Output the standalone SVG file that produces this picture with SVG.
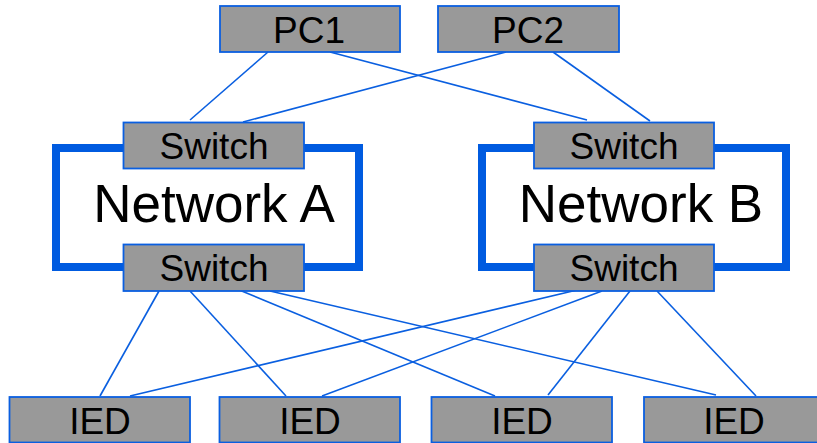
<svg xmlns="http://www.w3.org/2000/svg" width="817" height="443" viewBox="0 0 817 443">
<style>
.box{fill:#999999;stroke:#0a5fe0;stroke-width:1.8}
.frame{fill:#ffffff;stroke:#005be0;stroke-width:8}
.lbl{font-family:"Liberation Sans",Arial,sans-serif;font-size:37px;fill:#000000;text-anchor:middle}
.big{font-family:"Liberation Sans",Arial,sans-serif;font-size:53px;fill:#000000;text-anchor:middle}
.conn line{stroke:#0a5fe0;stroke-width:1.6}
</style>
<rect width="817" height="443" fill="#ffffff"/>
<g id="connectors" class="conn">
<line x1="268" y1="52" x2="190" y2="120"/>
<line x1="330" y1="52" x2="587" y2="120"/>
<line x1="506" y1="52" x2="243" y2="122"/>
<line x1="553" y1="52" x2="650" y2="121"/>
<line x1="159" y1="291" x2="100" y2="396"/>
<line x1="190" y1="291" x2="286" y2="396"/>
<line x1="232" y1="287" x2="495" y2="396"/>
<line x1="270" y1="291" x2="716" y2="395"/>
<line x1="577" y1="290" x2="130" y2="396"/>
<line x1="602" y1="291" x2="322" y2="396"/>
<line x1="630" y1="291" x2="548" y2="395"/>
<line x1="657" y1="291" x2="756" y2="396"/>
</g>
<g id="networkA">
<rect class="frame" x="56" y="148" width="303" height="119"/>
<text class="big" x="214" y="221.5">Network A</text>
</g>
<g id="networkB">
<rect class="frame" x="482" y="148" width="304" height="119"/>
<text class="big" x="641" y="221.5">Network B</text>
</g>
<g id="pc1"><rect class="box" x="220" y="6" width="180" height="46"/><text class="lbl" x="309" y="43">PC1</text></g>
<g id="pc2"><rect class="box" x="438" y="6" width="181" height="46"/><text class="lbl" x="528" y="43">PC2</text></g>
<g id="switchA1"><rect class="box" x="123.5" y="122.5" width="180.5" height="46"/><text class="lbl" x="214" y="158.5">Switch</text></g>
<g id="switchA2"><rect class="box" x="123.5" y="244.5" width="180.5" height="46.5"/><text class="lbl" x="214" y="281">Switch</text></g>
<g id="switchB1"><rect class="box" x="534" y="122.5" width="180" height="46"/><text class="lbl" x="624" y="158.5">Switch</text></g>
<g id="switchB2"><rect class="box" x="534" y="244.5" width="180" height="46.5"/><text class="lbl" x="624" y="281">Switch</text></g>
<g id="ied1"><rect class="box" x="9.5" y="397" width="180.5" height="45.5"/><text class="lbl" x="100" y="434">IED</text></g>
<g id="ied2"><rect class="box" x="219.5" y="397" width="180.5" height="45.5"/><text class="lbl" x="310" y="434">IED</text></g>
<g id="ied3"><rect class="box" x="431.5" y="397" width="180.5" height="45.5"/><text class="lbl" x="522" y="434">IED</text></g>
<g id="ied4"><rect class="box" x="644" y="397" width="180" height="45.5"/><text class="lbl" x="734" y="434">IED</text></g>
</svg>
